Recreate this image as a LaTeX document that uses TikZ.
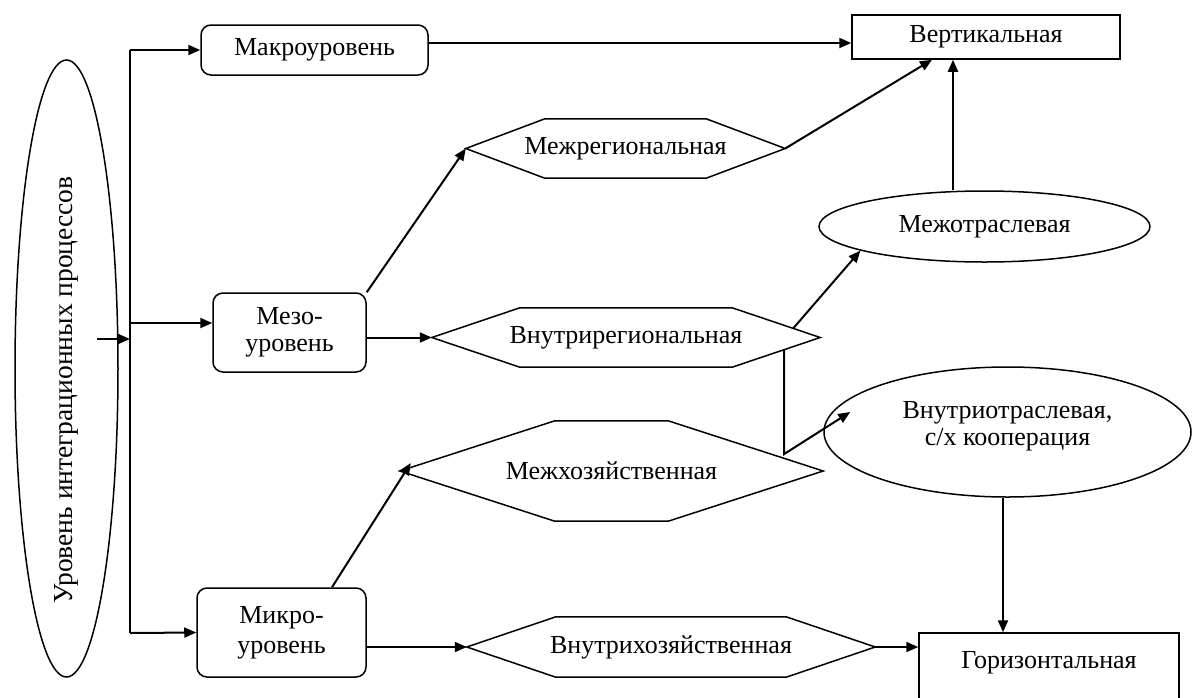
\documentclass[tikz,border=0pt]{standalone}
\usepackage{fontspec}
\setmainfont{Liberation Serif}
\usetikzlibrary{shapes.geometric,arrows.meta,calc}
\newcommand\hexdraw[2]{\draw[hexline] (#1.west) -- ([xshift=#2]#1.north west) -- ([xshift=-#2]#1.north east) -- (#1.east) -- ([xshift=-#2]#1.south east) -- ([xshift=#2]#1.south west) -- cycle;}
\begin{document}
\begin{tikzpicture}[x=1pt,y=-1pt,
  every node/.style={font=\fontsize{26}{27}\selectfont, inner sep=0pt, align=center},
  rbox/.style={draw, line width=1.5pt, rounded corners=10pt},
  sbox/.style={draw, line width=1.5pt},
  ellnode/.style={draw, ellipse, line width=1.5pt},
  arr/.style={line width=2pt, -{Triangle[length=12pt,width=10pt]}},
  ln/.style={line width=2pt},
  hexline/.style={line width=1.5pt, line join=miter}]
\useasboundingbox (0,0) rectangle (1192,697);
\fill[white] (0,0) rectangle (1192,697);
% nodes
\node[ellnode, rotate=90, minimum width=617, minimum height=103, font=\fontsize{27.5}{29}\selectfont] (lvl) at (66.5,368.5)
  {\makebox[0pt]{\hspace*{-43pt}Уровень интеграционных процессов}};
\node[rbox, minimum width=227, minimum height=50] (macro) at (314.5,50) {Макроуровень};
\node[sbox, minimum width=268, minimum height=44] (vert) at (986,37) {Вертикальная};
\node[rbox, minimum width=153, minimum height=79] (mezo) at (289.5,332.5) {Мезо-\\уровень};
\node[rbox, minimum width=169, minimum height=89, font=\fontsize{26}{30}\selectfont] (micro) at (281.5,632.5) {Микро-\\уровень};
\node[minimum width=319, minimum height=59] (hexA) at (625.5,148.5) {Межрегиональная};
\node[minimum width=388, minimum height=59] (hexB) at (626,337.5) {Внутрирегиональная};
\node[minimum width=423, minimum height=100] (hexC) at (611.5,471) {Межхозяйственная};
\node[minimum width=408, minimum height=60] (hexD) at (671,647) {Внутрихозяйственная};
\hexdraw{hexA}{79pt}
\hexdraw{hexB}{88pt}
\hexdraw{hexC}{155pt}
\hexdraw{hexD}{89pt}
\node[ellnode, minimum width=331, minimum height=71] (mezhotr) at (984.5,226.5) {Межотраслевая};
\node[ellnode, minimum width=367, minimum height=130] (vnut) at (1007.5,432) {Внутриотраслевая,\\с/х кооперация\rule[-18pt]{0pt}{18pt}};
\node[sbox, minimum width=260, minimum height=72, text height=20pt, text depth=22pt] (gor) at (1049,669) {Горизонтальная};
% trunk
\coordinate (tA) at (130,50);
\coordinate (tB) at (130,323);
\coordinate (tC) at (130,633);
\coordinate (inS) at (97,339);
\draw[ln] (tA) -- (tC);
\draw[arr] (inS) -- (inS -| tA);
\draw[arr] (tA) -- (macro.west);
\draw[arr] (tB) -- (tB -| mezo.west);
\draw[arr] (tC) -- (micro.west);
% top
\draw[arr] ([yshift=7pt]macro.east) -- ([yshift=7pt]macro.east -| vert.west);
\draw[arr] (mezo.north east) -- (hexA.west);
\draw[arr] (mezo.east |- hexB.west) -- (hexB.west);
\coordinate (vA) at ([xshift=-54pt]vert.south);
\draw[arr] (hexA.east) -- (vA);
\coordinate (vB) at ([xshift=-33pt]vert.south);
\draw[arr] (mezhotr.north -| vB) -- (vB);
\draw[arr] ($(hexB.east)!0.307!([xshift=-88pt]hexB.north east)$) -- (mezhotr.191);
\coordinate (bs) at ($(hexB.east)!0.409!([xshift=-88pt]hexB.south east)$);
\coordinate (bend) at (784,454);
\draw[arr] (bs) -- (bs |- bend) -- ($(vnut.west)+(27,-20)$);
% bottom
\draw[arr] ([xshift=50.5pt]micro.north) -- ($(hexC.west)+(11,-8)$);
\draw[arr] (micro.east |- hexD.west) -- (hexD.west);
\draw[arr] (hexD.east) -- (hexD.east -| gor.west);
\coordinate (gA) at ([xshift=-46pt]gor.north);
\draw[arr] (vnut.south -| gA) -- (gA);
\end{tikzpicture}
\end{document}
